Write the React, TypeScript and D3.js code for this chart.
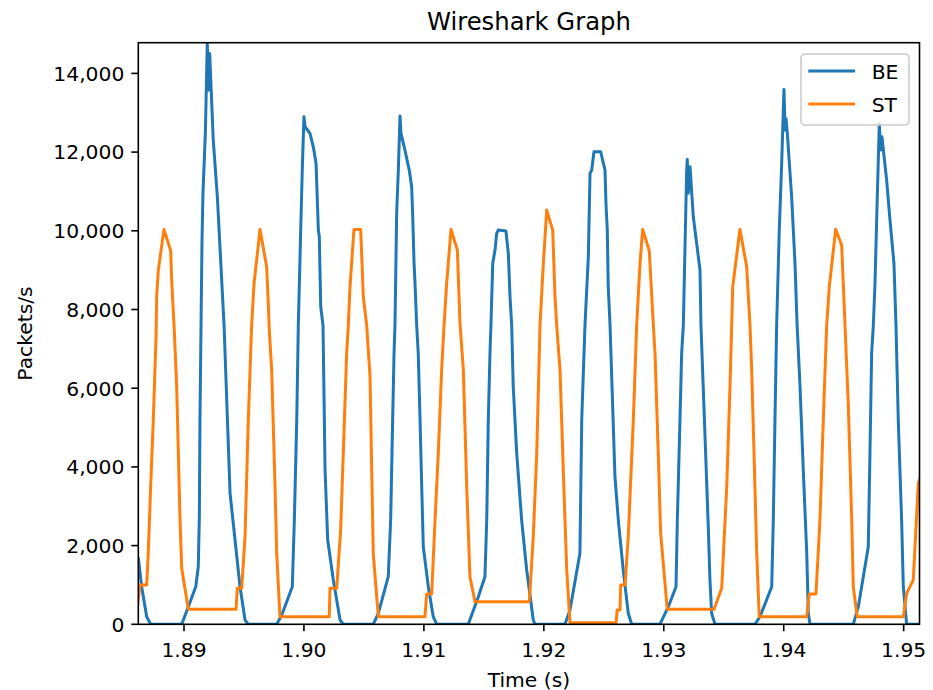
import React from "react";
import * as d3 from "d3";

const title = "Wireshark Graph";
const xLabel = "Time (s)";
const yLabel = "Packets/s";
const seriesNames = ["BE", "ST"];

const timeBE = [
  1.88619, 1.88647, 1.88689, 1.88722, 1.88981, 1.89036, 1.89098, 1.89119, 1.89128, 1.89133, 1.89142, 1.8915, 1.89158, 1.89178, 1.89194, 1.89206, 1.89214, 1.89244, 1.89278, 1.89334, 1.89384, 1.89467, 1.89509, 1.89536,
  1.89773, 1.89815, 1.89903, 1.8992, 1.8994, 1.89953, 1.89973, 1.89986, 1.9, 1.90009, 1.9005, 1.90078, 1.90101, 1.9012, 1.90128, 1.9014, 1.90159, 1.90176, 1.90198, 1.90245, 1.90301, 1.90328,
  1.90578, 1.9062, 1.90703, 1.90723, 1.90734, 1.90751, 1.90759, 1.90773, 1.90787, 1.90801, 1.90809, 1.90842, 1.90878, 1.90898, 1.90907, 1.90918, 1.90926, 1.9094, 1.90953, 1.90968, 1.90982, 1.90995, 1.91037, 1.91078, 1.91107,
  1.9137, 1.91454, 1.91509, 1.91524, 1.91537, 1.91551, 1.91559, 1.91574, 1.91593, 1.91607, 1.9162, 1.91684, 1.91704, 1.91718, 1.91732, 1.91745, 1.91774, 1.91815, 1.91857, 1.91912, 1.91926,
  1.92176, 1.92218, 1.92301, 1.92316, 1.92343, 1.92371, 1.92385, 1.92399, 1.92418, 1.92474, 1.9251, 1.92518, 1.92529, 1.92537, 1.92552, 1.92593, 1.92621, 1.92662, 1.92704, 1.92732,
  1.92968, 1.93038, 1.93102, 1.93113, 1.93135, 1.93149, 1.93163, 1.93177, 1.93191, 1.93196, 1.93204, 1.93219, 1.93246, 1.93274, 1.93302, 1.9331, 1.93344, 1.93371, 1.93385, 1.93399, 1.93427,
  1.9376, 1.93802, 1.939, 1.93913, 1.93927, 1.93941, 1.93963, 1.93983, 1.94002, 1.94011, 1.94019, 1.9403, 1.94066, 1.94094, 1.94111, 1.94136, 1.94163, 1.94192, 1.94205, 1.94219,
  1.9458, 1.94622, 1.94705, 1.94719, 1.94733, 1.94747, 1.94761, 1.9478, 1.94797, 1.94808, 1.94819, 1.94858, 1.94886, 1.94919, 1.94936, 1.94955, 1.94983, 1.94997, 1.95025, 1.9514,
];
const packetsBE = [
  1700, 955, 193, 0, 0, 447, 955, 1463, 2734, 5191, 7600, 9721, 10951, 12476, 14762, 13576, 14508, 12305, 10865, 7600, 3329, 955, 109, 0,
  0, 236, 955, 2650, 5191, 7600, 10018, 11543, 12898, 12644, 12476, 12135, 11713, 10018, 9849, 8070, 7600, 3920, 2142, 1126, 109, 0,
  0, 280, 1210, 2650, 4345, 6886, 7600, 10443, 11543, 12915, 12476, 12052, 11543, 11119, 10357, 9172, 8664, 7600, 6886, 5191, 3497, 1972, 955, 193, 0,
  0, 701, 1210, 2650, 5191, 6886, 7600, 9172, 9510, 9934, 10018, 9993, 9426, 8324, 7600, 6037, 4345, 2650, 1380, 109, 0,
  0, 363, 1804, 5191, 7600, 9341, 11459, 11543, 12008, 12008, 11543, 10697, 10018, 8578, 7600, 3750, 2650, 1380, 280, 0,
  0, 447, 955, 2650, 5191, 6886, 7600, 9594, 11543, 11815, 10951, 11627, 10357, 9680, 9002, 7600, 4767, 2480, 1126, 280, 0,
  0, 193, 955, 2650, 5191, 7600, 10018, 11713, 13593, 12559, 12856, 12476, 10865, 9172, 7647, 6037, 3920, 1804, 280, 0,
  0, 447, 1972, 4345, 6886, 7600, 8664, 10865, 12729, 12052, 12389, 11289, 10273, 9172, 7600, 5191, 2650, 955, 0, 0,
];

const timeST = [
  1.8861, 1.88633, 1.88689, 1.88702, 1.88722, 1.88744, 1.88767, 1.88772, 1.88786, 1.88833, 1.88889, 1.88897, 1.88919, 1.88939, 1.88967, 1.88981, 1.89036,
  1.89434, 1.89444, 1.89481, 1.89509, 1.89536, 1.89564, 1.89584, 1.89634, 1.89689, 1.89703, 1.89711, 1.89731, 1.89759, 1.89773, 1.898,
  1.90211, 1.90217, 1.90273, 1.90306, 1.90328, 1.90356, 1.9037, 1.90384, 1.90417, 1.90473, 1.90495, 1.90523, 1.90551, 1.90565, 1.90578, 1.9062,
  1.91009, 1.91023, 1.91065, 1.91093, 1.9112, 1.91148, 1.91168, 1.9119, 1.91226, 1.91279, 1.91301, 1.91329, 1.91357, 1.91384, 1.91426,
  1.91879, 1.91912, 1.91941, 1.91968, 1.91996, 1.92024, 1.92074, 1.92093, 1.92107, 1.92135, 1.92162, 1.92191, 1.92218,
  1.92602, 1.92612, 1.92635, 1.92641, 1.92677, 1.92704, 1.92746, 1.92774, 1.92802, 1.92824, 1.92879, 1.92913, 1.92927, 1.92954, 1.92974, 1.93029,
  1.93419, 1.93483, 1.93525, 1.93552, 1.93575, 1.93635, 1.93691, 1.93719, 1.93733, 1.9376, 1.93775, 1.93796,
  1.94192, 1.94213, 1.94269, 1.94302, 1.9433, 1.94358, 1.9438, 1.94433, 1.94483, 1.94511, 1.94538, 1.94567, 1.9458, 1.94613,
  1.94997, 1.95025, 1.9508, 1.95122, 1.95153,
];
const packetsST = [
  363, 1000, 1000, 1804, 3497, 5191, 7307, 8324, 9002, 10036, 9493, 8748, 7478, 6037, 2650, 1423, 381,
  381, 915, 915, 2226, 5191, 7600, 8664, 10036, 9086, 8156, 7478, 6461, 3497, 1804, 193,
  193, 915, 915, 2396, 4345, 6886, 7600, 8578, 10036, 10036, 8324, 7600, 6291, 3920, 1804, 193,
  193, 770, 770, 2650, 4345, 6461, 7600, 8664, 10036, 9510, 7647, 6461, 3497, 1210, 574,
  574, 2226, 4345, 7600, 9172, 10527, 10018, 8324, 7600, 6461, 3920, 1380, 41,
  41, 363, 363, 1000, 1000, 2226, 5191, 7600, 9172, 10036, 9493, 7600, 6886, 4345, 2312, 381,
  381, 915, 3497, 6037, 8578, 10036, 9086, 7600, 6461, 3497, 1804, 193,
  193, 770, 770, 2650, 5191, 7600, 8578, 10036, 9637, 7600, 5615, 2650, 955, 193,
  193, 788, 1126, 3583, 3900,
];

const xTicks = [1.89, 1.9, 1.91, 1.92, 1.93, 1.94, 1.95];
const yTicks = [0, 2000, 4000, 6000, 8000, 10000, 12000, 14000];
const xDomain = [1.88619, 1.95132];
const yDomain = [0, 14780];

const COLORS = ["#1f77b4", "#ff7f0e"];
const FONT = "'DejaVu Sans', sans-serif";

export default function App() {
  const W = 933;
  const H = 690;
  const left = 138.3;
  const right = 919.5;
  const top = 42.7;
  const bottom = 624.3;

  const x = d3.scaleLinear().domain(xDomain).range([left, right]);
  const y = d3.scaleLinear().domain(yDomain).range([bottom, top]);

  const seriesData = [
    timeBE.map((t, i) => [t, packetsBE[i]] as [number, number]),
    timeST.map((t, i) => [t, packetsST[i]] as [number, number]),
  ];
  const line = d3
    .line<[number, number]>()
    .x((d) => x(d[0]))
    .y((d) => y(d[1]));

  const fmtX = d3.format(".2f");
  const fmtY = d3.format(",");
  const fs = 20.3;

  return (
    <svg
      width={W}
      height={H}
      style={{ position: "absolute", left: 0, top: 0, background: "#fff" }}
      fontFamily={FONT}
    >
      <rect x={0} y={0} width={W} height={H} fill="#fff" />
      <defs>
        <clipPath id="plotclip">
          <rect x={left} y={top} width={right - left} height={bottom - top} />
        </clipPath>
      </defs>
      <g clipPath="url(#plotclip)">
        {seriesData.map((d, i) => (
          <path
            key={i}
            d={line(d) || ""}
            fill="none"
            stroke={COLORS[i]}
            strokeWidth={3}
            strokeLinejoin="round"
            strokeLinecap="butt"
          />
        ))}
      </g>
      <rect
        x={left}
        y={top}
        width={right - left}
        height={bottom - top}
        fill="none"
        stroke="#000"
        strokeWidth={1.6}
      />
      {xTicks.map((t) => (
        <g key={t}>
          <line x1={x(t)} x2={x(t)} y1={bottom} y2={bottom + 7} stroke="#000" strokeWidth={1.6} />
          <text x={x(t)} y={656.5} textAnchor="middle" fontSize={fs} fill="#000">
            {fmtX(t)}
          </text>
        </g>
      ))}
      {yTicks.map((v) => (
        <g key={v}>
          <line x1={left - 7} x2={left} y1={y(v)} y2={y(v)} stroke="#000" strokeWidth={1.6} />
          <text x={left - 14} y={y(v) + 7.4} textAnchor="end" fontSize={fs} fill="#000">
            {fmtY(v)}
          </text>
        </g>
      ))}
      <text x={(left + right) / 2} y={686.5} textAnchor="middle" fontSize={fs} fill="#000">
        {xLabel}
      </text>
      <text
        transform={`translate(32, ${(top + bottom) / 2}) rotate(-90)`}
        textAnchor="middle"
        fontSize={fs}
        fill="#000"
      >
        {yLabel}
      </text>
      <text x={(left + right) / 2} y={29.5} textAnchor="middle" fontSize={24.3} fill="#000">
        {title}
      </text>
      <rect
        x={801}
        y={54}
        width={108}
        height={71}
        rx={4}
        ry={4}
        fill="#fff"
        fillOpacity={0.8}
        stroke="#cccccc"
        strokeWidth={1.6}
      />
      {seriesNames.map((name, i) => (
        <g key={name}>
          <line
            x1={808.3}
            x2={855}
            y1={71 + i * 33}
            y2={71 + i * 33}
            stroke={COLORS[i]}
            strokeWidth={3}
          />
          <text x={871.7} y={71 + i * 33 + 8} fontSize={fs} fill="#000">
            {name}
          </text>
        </g>
      ))}
    </svg>
  );
}
